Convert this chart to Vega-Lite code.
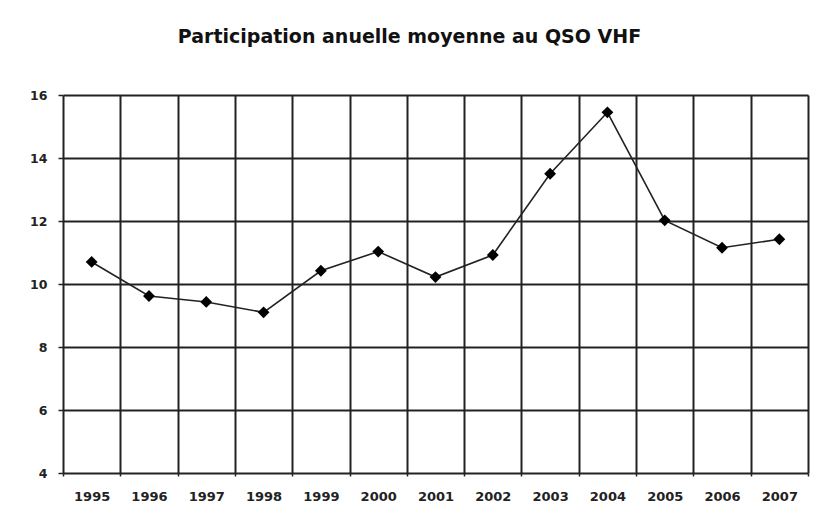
{
  "$schema": "https://vega.github.io/schema/vega-lite/v6.json",
  "autosize": "none",
  "width": 745,
  "height": 378,
  "padding": {"left": 63, "top": 95, "right": 21, "bottom": 45},
  "background": "white",
  "title": {
    "text": "Participation anuelle moyenne au QSO VHF",
    "font": "DejaVu Sans",
    "fontSize": 19,
    "fontWeight": "bold",
    "color": "#111",
    "anchor": "middle",
    "dx": -26,
    "offset": 42
  },
  "data": {
    "values": [
      {"year": 1995, "value": 10.7},
      {"year": 1996, "value": 9.62},
      {"year": 1997, "value": 9.43},
      {"year": 1998, "value": 9.1},
      {"year": 1999, "value": 10.42},
      {"year": 2000, "value": 11.03},
      {"year": 2001, "value": 10.22},
      {"year": 2002, "value": 10.92},
      {"year": 2003, "value": 13.5},
      {"year": 2004, "value": 15.45},
      {"year": 2005, "value": 12.02},
      {"year": 2006, "value": 11.15},
      {"year": 2007, "value": 11.42}
    ]
  },
  "encoding": {
    "x": {
      "field": "year",
      "type": "quantitative",
      "scale": {"domain": [1994.5, 2007.5], "nice": false, "zero": false},
      "axis": {
        "title": null,
        "values": [1994.5, 1995.5, 1996.5, 1997.5, 1998.5, 1999.5, 2000.5, 2001.5, 2002.5, 2003.5, 2004.5, 2005.5, 2006.5, 2007.5],
        "labelExpr": "datum.value < 2007 ? format(datum.value + 0.5, 'd') : ''",
        "labelOffset": 28.65,
        "labelOverlap": false,
        "labelBound": false,
        "labelFlush": false,
        "labelFont": "DejaVu Sans",
        "labelFontSize": 13,
        "labelFontWeight": "bold",
        "labelColor": "#222",
        "labelPadding": 14,
        "grid": true,
        "gridColor": "#222",
        "gridWidth": 2,
        "gridOpacity": 1,
        "domain": false,
        "ticks": true,
        "tickSize": 3,
        "tickColor": "#222",
        "tickWidth": 1.5
      }
    },
    "y": {
      "field": "value",
      "type": "quantitative",
      "scale": {"domain": [4, 16], "nice": false, "zero": false},
      "axis": {
        "title": null,
        "values": [4, 6, 8, 10, 12, 14, 16],
        "labelFont": "DejaVu Sans",
        "labelFontSize": 12.5,
        "labelFontWeight": "bold",
        "labelColor": "#222",
        "labelPadding": 11,
        "grid": true,
        "gridColor": "#222",
        "gridWidth": 2,
        "gridOpacity": 1,
        "domain": false,
        "ticks": true,
        "tickSize": 5,
        "tickColor": "#222",
        "tickWidth": 1.5
      }
    }
  },
  "layer": [
    {"mark": {"type": "line", "color": "#222", "strokeWidth": 1.6}},
    {"mark": {"type": "point", "shape": "diamond", "filled": true, "color": "#000", "opacity": 1, "size": 140}}
  ],
  "config": {"view": {"stroke": null}}
}
